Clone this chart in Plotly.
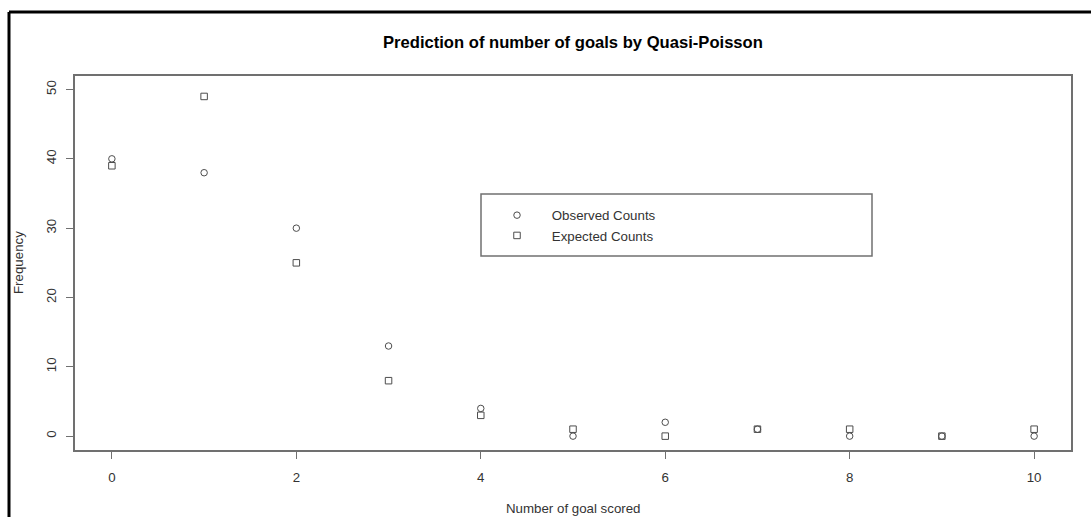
import plotly.graph_objects as go

# Goals per match and their frequencies
goals = [0, 1, 2, 3, 4, 5, 6, 7, 8, 9, 10]
observed_counts = [40, 38, 30, 13, 4, 0, 2, 1, 0, 0, 0]
expected_counts = [39, 49, 25, 8, 3, 1, 0, 1, 1, 0, 1]

x_ticks = [0, 2, 4, 6, 8, 10]
y_ticks = [0, 10, 20, 30, 40, 50]

FONT = "Liberation Sans, Arial, sans-serif"
INK = "#333333"
MARK = "#4d4d4d"
AXIS = "#707070"
FS = 13.3

W, H = 1091, 517
L, R, T, B = 75, 20, 76, 67
pw, ph = W - L - R, H - T - B


def px_x(p):
    return (p - L) / pw


def px_y(p):
    return (H - B - p) / ph


fig = go.Figure()
fig.add_trace(go.Scatter(
    x=goals, y=observed_counts, mode="markers",
    name="\u00a0\u00a0\u00a0\u00a0Observed Counts",
    marker=dict(symbol="circle-open", size=6.5, color=MARK, line=dict(width=1, color=MARK)),
))
fig.add_trace(go.Scatter(
    x=goals, y=expected_counts, mode="markers",
    name="\u00a0\u00a0\u00a0\u00a0Expected Counts",
    marker=dict(symbol="square-open", size=6.5, color=MARK, line=dict(width=1, color=MARK)),
))

axis_common = dict(
    showgrid=False, zeroline=False, showline=True, linecolor=AXIS, linewidth=1.5,
    mirror=True, ticks="outside", ticklen=7, tickwidth=1, tickcolor=AXIS,
    tickfont=dict(family=FONT, size=FS, color=INK),
)

fig.update_layout(
    width=W, height=H,
    margin=dict(l=L, r=R, t=T, b=B),
    paper_bgcolor="white", plot_bgcolor="white",
    showlegend=True,
    legend=dict(
        x=px_x(497), y=px_y(200), xanchor="left", yanchor="top",
        bgcolor="rgba(0,0,0,0)", borderwidth=0,
        font=dict(family=FONT, size=FS, color=INK),
    ),
    xaxis=dict(range=[-0.4, 10.4], tickvals=x_ticks, ticklabelstandoff=7, **axis_common),
    yaxis=dict(range=[-2, 51.95], tickvals=y_ticks, tickangle=-90, ticklabelstandoff=5,
               **axis_common),
)

# Legend frame
fig.add_shape(type="rect", xref="paper", yref="paper",
              x0=px_x(481), x1=px_x(872), y0=px_y(256), y1=px_y(194),
              line=dict(color=AXIS, width=1.5), fillcolor="rgba(0,0,0,0)")

# Device frame along the top and left edges
fig.add_shape(type="line", xref="paper", yref="paper",
              x0=px_x(9), x1=px_x(1095), y0=px_y(12), y1=px_y(12),
              line=dict(color="black", width=3))
fig.add_shape(type="line", xref="paper", yref="paper",
              x0=px_x(9), x1=px_x(9), y0=px_y(12), y1=px_y(520),
              line=dict(color="black", width=3))

fig.add_annotation(text="<b>Prediction of number of goals by Quasi-Poisson</b>",
                   xref="paper", yref="paper", x=0.5, y=px_y(42),
                   xanchor="center", yanchor="middle",
                   showarrow=False, font=dict(family=FONT, size=16.6, color="black"))
fig.add_annotation(text="Number of goal scored", xref="paper", yref="paper",
                   x=0.5, y=px_y(508), xanchor="center", yanchor="middle",
                   showarrow=False, font=dict(family=FONT, size=FS, color=INK))
fig.add_annotation(text="Frequency", xref="paper", yref="paper",
                   x=px_x(18), y=0.5, xanchor="center", yanchor="middle",
                   textangle=-90, showarrow=False,
                   font=dict(family=FONT, size=FS, color=INK))

fig.write_html("out.html")
